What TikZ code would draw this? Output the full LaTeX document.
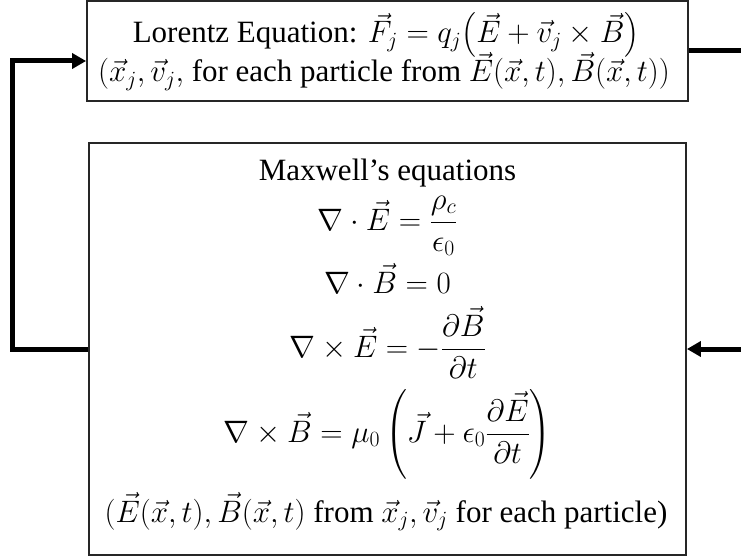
\RequirePackage{fix-cm}
\documentclass[tikz,border=0pt]{standalone}
\usepackage{amsmath}
\usepackage{fontspec}
\setmainfont{Liberation Serif}
\usetikzlibrary{arrows.meta}
\begin{document}
\begin{tikzpicture}[x=1pt,y=-1pt,
  box/.style={draw=black!85,line width=1.8pt,inner sep=0pt},
  txt/.style={inner sep=0pt,anchor=base,align=center,font=\fontsize{31}{39}\selectfont},
  conn/.style={line width=5pt,line join=miter},
  tip/.style={-{Triangle[length=14pt,width=15pt]}}]
\useasboundingbox (0,0) rectangle (741,559);
\node[box,minimum width=601pt,minimum height=100pt] (top) at (387.5,51) {};
\node[box,minimum width=597pt,minimum height=412pt] (bot) at (387.5,349) {};
\node[txt] (lor1) at (386,43) {Lorentz Equation: $\vec{F}_j = q_j\bigl(\vec{E} + \vec{v}_j \times \vec{B}\bigr)$};
\node[txt] (lor2) at (384,82) {$(\vec{x}_j, \vec{v}_j,$ for each particle from $\vec{E}(\vec{x},t), \vec{B}(\vec{x},t))$};
\node[txt] (mx) at (387.5,180) {Maxwell’s equations};
\node[txt] (e1) at (387.5,230) {$\nabla\cdot\vec{E} = \dfrac{\rho_c}{\epsilon_0}$};
\node[txt] (e2) at (387.5,293) {$\nabla\cdot\vec{B} = 0$};
\node[txt] (e3) at (387.5,357) {$\nabla\times\vec{E} = -\dfrac{\partial\vec{B}}{\partial t}$};
\node[txt] (e4) at (387.5,442) {$\nabla\times\vec{B} = \mu_0\left(\vec{J} + \epsilon_0\dfrac{\partial\vec{E}}{\partial t}\right)$};
\node[txt] (last) at (386,522) {$(\vec{E}(\vec{x},t), \vec{B}(\vec{x},t)$ from $\vec{x}_j, \vec{v}_j$ for each particle)};
\coordinate (lc) at (12,61);
\coordinate (rt) at (741,51);
\coordinate (rb) at (741,349);
\draw[conn,tip] (bot.west) -| (lc) -- (top.west |- lc);
\draw[conn] (top.east) -- (rt);
\draw[conn,tip] (rb) -- (bot.east);
\end{tikzpicture}
\end{document}
